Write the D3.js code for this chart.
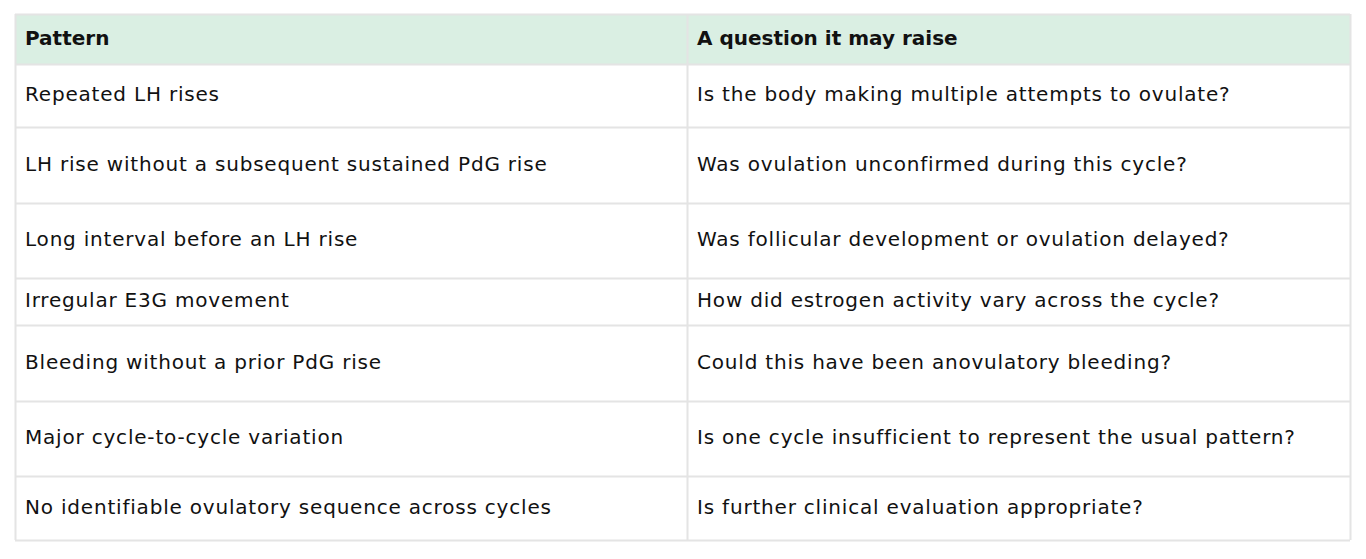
<!DOCTYPE html>
<html>
<head>
<meta charset="utf-8">
<script src="https://cdn.jsdelivr.net/npm/d3@7"></script>
<style>
  html, body { margin: 0; padding: 0; background: #fff; }
</style>
</head>
<body>
<div class="chart"></div>
<script>
const columns = ['Pattern', 'A question it may raise'];

const patterns = [
  'Repeated LH rises',
  'LH rise without a subsequent sustained PdG rise',
  'Long interval before an LH rise',
  'Irregular E3G movement',
  'Bleeding without a prior PdG rise',
  'Major cycle-to-cycle variation',
  'No identifiable ovulatory sequence across cycles'
];

const questions = [
  'Is the body making multiple attempts to ovulate?',
  'Was ovulation unconfirmed during this cycle?',
  'Was follicular development or ovulation delayed?',
  'How did estrogen activity vary across the cycle?',
  'Could this have been anovulatory bleeding?',
  'Is one cycle insufficient to represent the usual pattern?',
  'Is further clinical evaluation appropriate?'
];

draw();

function draw() {
  const width = 1366;
  const height = 559;
  const margin = { top: 14, left: 15, right: 16, bottom: 19 };

  // row heights in px (header first), as laid out in the original page
  const rowHeights = [50, 63, 76, 75, 47, 76, 75, 64];
  const rowTops = [0];
  rowHeights.forEach((h, i) => rowTops.push(rowTops[i] + h));

  const tableW = width - margin.left - margin.right;
  const colSplit = 672 / tableW;

  const x = d3.scaleLinear().domain([0, 1]).range([0, tableW]);
  const y = d3.scaleLinear().domain([0, rowTops[rowTops.length - 1]]).range([0, rowTops[rowTops.length - 1]]);

  const rows = patterns.map((p, i) => ({ pattern: p, question: questions[i] }));

  const svg = d3.select('.chart')
    .append('svg')
    .attr('width', width)
    .attr('height', height)
    .style('display', 'block')
    .append('g')
    .attr('transform', `translate(${margin.left}, ${margin.top})`);

  const font = "'DejaVu Sans', sans-serif";
  const border = '#e4e4e4';

  // header background
  svg.append('rect')
    .attr('x', x(0))
    .attr('y', y(rowTops[0]))
    .attr('width', x(1) - x(0))
    .attr('height', rowHeights[0])
    .attr('fill', '#daefe3');

  // horizontal rules
  svg.selectAll('.hline')
    .data(rowTops)
    .join('line')
    .attr('class', 'hline')
    .attr('x1', x(0))
    .attr('x2', x(1))
    .attr('y1', d => y(d) + 0.5)
    .attr('y2', d => y(d) + 0.5)
    .attr('stroke', border)
    .attr('stroke-width', 2);

  // vertical rules
  svg.selectAll('.vline')
    .data([0, colSplit, 1])
    .join('line')
    .attr('class', 'vline')
    .attr('x1', d => x(d) + 0.5)
    .attr('x2', d => x(d) + 0.5)
    .attr('y1', y(0))
    .attr('y2', y(rowTops[rowTops.length - 1]))
    .attr('stroke', border)
    .attr('stroke-width', 2);

  // header text
  svg.selectAll('.head')
    .data(columns)
    .join('text')
    .attr('class', 'head')
    .attr('x', (d, i) => x(i === 0 ? 0 : colSplit) + 10)
    .attr('y', rowHeights[0] / 2 - 1)
    .attr('dy', '0.35em')
    .attr('font-family', font)
    .attr('font-weight', 700)
    .attr('font-size', 20)
    .attr('fill', '#111')
    .text(d => d);

  // body cells
  const g = svg.selectAll('.row')
    .data(rows)
    .join('g')
    .attr('class', 'row')
    .attr('transform', (d, i) => `translate(0, ${y(rowTops[i + 1]) + rowHeights[i + 1] / 2 - 1.5})`);

  g.append('text')
    .attr('x', x(0) + 10)
    .attr('dy', '0.35em')
    .attr('font-family', font)
    .attr('font-size', 20)
    .attr('letter-spacing', 0.8)
    .attr('fill', '#111')
    .text(d => d.pattern);

  g.append('text')
    .attr('x', x(colSplit) + 10)
    .attr('dy', '0.35em')
    .attr('font-family', font)
    .attr('font-size', 20)
    .attr('letter-spacing', 0.8)
    .attr('fill', '#111')
    .text(d => d.question);
}
</script>
</body>
</html>
